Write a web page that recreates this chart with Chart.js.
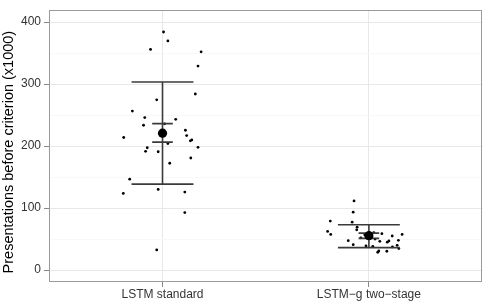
<!DOCTYPE html>
<html>
<head>
<meta charset="utf-8">
<script src="https://cdn.jsdelivr.net/npm/chart.js@4/dist/chart.umd.min.js"></script>
<style>
html,body{margin:0;padding:0;background:#fff;}
#wrap{width:487px;height:302px;position:relative;}
</style>
</head>
<body>
<div id="wrap"><canvas id="c" width="487" height="302"></canvas></div>
<script>
// ---- data ----
const categories = ['LSTM standard', 'LSTM\u2212g two\u2212stage'];
const yTicks = [0, 100, 200, 300, 400];
const yTitle = 'Presentations before criterion (x1000)';

// jittered positions (category index units) and values (x1000)
const standardX = [1.005, 1.026, 0.942, 1.187, 1.172, 1.159, 0.972, 0.854, 0.914, 1.064,
                   0.908, 1.111, 1.117, 0.812, 1.142, 1.135, 1.026, 1.172, 0.926, 0.918,
                   0.979, 1.137, 1.035, 0.841, 0.810, 0.979, 1.108, 1.108, 0.972, 1.010];
const standardY = [384, 369.6, 356, 352, 329, 284, 274.7, 256.5, 246, 243.2,
                   233.6, 225.6, 217, 213.9, 210, 208.5, 204, 198, 197.3, 191.5,
                   190.9, 180.8, 172.3, 146.7, 123.7, 130.1, 125.9, 92.8, 32.5, 236];

const twoStageX = [1.928, 1.924, 1.813, 1.919, 1.943, 1.941, 1.800, 1.815, 2.024, 2.063,
                   2.113, 2.161, 1.900, 1.924, 2.053, 2.097, 2.089, 2.143, 2.137, 2.114,
                   2.019, 1.986, 2.048, 2.043, 2.087, 2.145, 2.013, 1.961, 1.980, 2.030];
const twoStageY = [111.5, 93.5, 79, 77.3, 69.3, 65, 62.4, 57.6, 60.3, 58.7,
                   55, 57.6, 47.5, 41, 46.4, 47, 45, 48, 40, 37.3,
                   38.4, 38.9, 31, 28.8, 30.4, 34.7, 53.3, 52, 57, 50];

const means  = [220.9, 55.5];
const sdLow  = [138.7, 36.3];
const sdHigh = [303.5, 73.1];
const ciLow  = [206.4, 51.2];
const ciHigh = [236.2, 59.6];

// ---- styling constants ----
const SD_CAP = 0.15, CI_CAP = 0.05;
const BAR_COLOR = '#3a3a3a';

const pts = (xs, ys) => xs.map((x, i) => ({x, y: ys[i]}));

const datasets = [];
datasets.push({data: pts(standardX, standardY), pointRadius: 1.4, pointBackgroundColor: '#000', pointBorderWidth: 0, order: 3});
datasets.push({data: pts(twoStageX, twoStageY), pointRadius: 1.4, pointBackgroundColor: '#000', pointBorderWidth: 0, order: 3});

const seg = (a, b) => ({data: [a, b], showLine: true, borderColor: BAR_COLOR, borderWidth: 1.6, pointRadius: 0, order: 2});
for (let i = 0; i < categories.length; i++) {
  const c = i + 1;
  datasets.push(seg({x: c, y: sdLow[i]}, {x: c, y: sdHigh[i]}));
  datasets.push(seg({x: c - SD_CAP, y: sdLow[i]}, {x: c + SD_CAP, y: sdLow[i]}));
  datasets.push(seg({x: c - SD_CAP, y: sdHigh[i]}, {x: c + SD_CAP, y: sdHigh[i]}));
  datasets.push(seg({x: c - CI_CAP, y: ciLow[i]}, {x: c + CI_CAP, y: ciLow[i]}));
  datasets.push(seg({x: c - CI_CAP, y: ciHigh[i]}, {x: c + CI_CAP, y: ciHigh[i]}));
}
datasets.push({data: means.map((m, i) => ({x: i + 1, y: m})), pointRadius: 4.6, pointBackgroundColor: '#000', pointBorderWidth: 0, order: 1});

const panelBorder = {
  id: 'panelBorder',
  beforeDatasetsDraw(chart) {
    const {ctx, chartArea: a} = chart;
    ctx.save();
    ctx.strokeStyle = '#9a9a9a';
    ctx.lineWidth = 1;
    ctx.strokeRect(Math.round(a.left) + 0.5, Math.round(a.top) + 0.5, Math.round(a.right - a.left) - 1, Math.round(a.bottom - a.top) - 1);
    ctx.restore();
  }
};

// y-axis title, placed as in the reference (slightly below panel centre)
const yAxisTitle = {
  id: 'yAxisTitle',
  afterDraw(chart) {
    const {ctx, chartArea: a} = chart;
    ctx.save();
    ctx.translate(9, (a.top + a.bottom) / 2 + 6);
    ctx.rotate(-Math.PI / 2);
    ctx.fillStyle = '#000';
    ctx.font = '14.5px "Liberation Sans"';
    ctx.textAlign = 'center';
    ctx.textBaseline = 'middle';
    ctx.fillText(yTitle, 0, 0);
    ctx.restore();
  }
};

new Chart(document.getElementById('c'), {
  type: 'scatter',
  data: {datasets},
  plugins: [panelBorder, yAxisTitle],
  options: {
    responsive: false,
    animation: false,
    events: [],
    layout: {padding: {top: 7, right: 3, bottom: 0, left: 0}},
    plugins: {legend: {display: false}, tooltip: {enabled: false}},
    scales: {
      x: {
        type: 'linear', min: 0.45, max: 2.55,
        afterBuildTicks: s => { s.ticks = categories.map((_, i) => ({value: i + 1})); },
        afterFit: s => { s.height = 20; },
        ticks: {
          callback: v => categories[v - 1] || '',
          color: '#333', font: {family: 'Liberation Sans', size: 12}, padding: 0, maxRotation: 0, autoSkip: false
        },
        grid: {color: '#e8e8e8', lineWidth: 1, tickLength: 5, tickColor: '#888'},
        border: {display: false}
      },
      y: {
        type: 'linear', min: -19.2, max: 419.2,
        ticks: {
          stepSize: 50, includeBounds: false,
          callback: v => (yTicks.includes(v) ? String(v) : ''),
          color: '#333', font: {family: 'Liberation Sans', size: 12}, padding: 3
        },
        afterFit: s => { s.width = 49; },
        grid: {
          color: c => (c.tick && yTicks.includes(c.tick.value)) ? '#e8e8e8' : '#f8f8f8',
          tickColor: c => (c.tick && yTicks.includes(c.tick.value)) ? '#888' : 'rgba(0,0,0,0)',
          lineWidth: 1, tickLength: 5
        },
        border: {display: false},
        title: {display: false}
      }
    }
  }
});
</script>
</body>
</html>
